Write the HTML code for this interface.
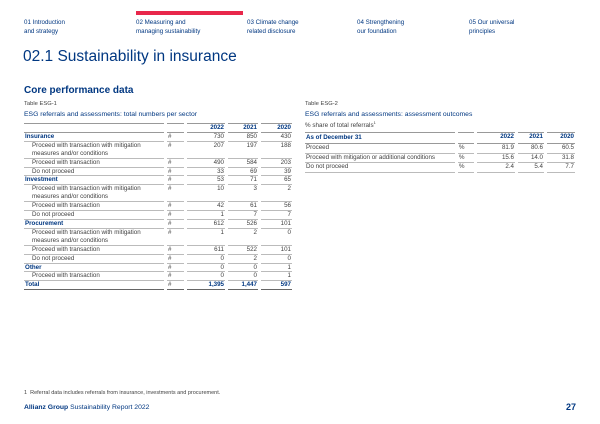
<!DOCTYPE html>
<html><head><meta charset="utf-8"><style>
body{margin:0;width:600px;height:424px;background:#fff;font-family:"Liberation Sans",sans-serif;color:#414141;position:relative;overflow:hidden}
.a{position:absolute;white-space:nowrap}
.nav{font-size:6.2px;line-height:9px;color:#003781}
.blue{color:#003781}
table{border-collapse:separate;border-spacing:3px 0;position:absolute;font-size:6.2px}
td,th{padding:0 1px;line-height:7.9px;border-bottom:0.7px solid #bbb;vertical-align:top;text-align:right;font-weight:normal}
td.l,th.l{text-align:left}
.sub td.l:first-child{padding-left:8px}
.b td.l:first-child{font-weight:bold;color:#003781}
th{font-weight:bold;color:#003781;border-bottom:1px solid #999}
.hd th{border-top:1px solid #999}
.tot td{border-bottom:1.3px solid #666;font-weight:bold;color:#003781}
.tot td:nth-child(2){font-weight:normal;color:#414141}
#t2 td{line-height:8.6px}
</style></head><body>
<div class="a" style="left:136px;top:11px;width:107px;height:4px;background:#e8274b"></div>
<div class="a nav" style="left:24px;top:18px">01 Introduction<br>and strategy</div>
<div class="a nav" style="left:136px;top:18px">02 Measuring and<br>managing sustainability</div>
<div class="a nav" style="left:247px;top:18px">03 Climate change<br>related disclosure</div>
<div class="a nav" style="left:357px;top:18px">04 Strengthening<br>our foundation</div>
<div class="a nav" style="left:469px;top:18px">05 Our universal<br>principles</div>
<div class="a blue" style="left:23px;top:48px;font-size:15.5px">02.1 Sustainability in insurance</div>
<div class="a blue" style="left:24px;top:85px;font-size:10px;font-weight:bold">Core performance data</div>
<div class="a" style="left:24px;top:101px;font-size:5.8px">Table ESG-1</div>
<div class="a blue" style="left:24px;top:111px;font-size:6.8px">ESG referrals and assessments: total numbers per sector</div>
<div class="a" style="left:305px;top:101px;font-size:5.8px">Table ESG-2</div>
<div class="a blue" style="left:305px;top:111px;font-size:6.8px">ESG referrals and assessments: assessment outcomes</div>
<div class="a" style="left:305px;top:120px;font-size:6.3px">% share of total referrals<sup style="font-size:4px">1</sup></div>

<table style="left:21px;top:123px">
<colgroup><col style="width:140px"><col style="width:17px"><col style="width:38px"><col style="width:30px"><col style="width:31px"></colgroup>
<tr class="hd"><th class="l" style="line-height:9px"></th><th></th><th>2022</th><th>2021</th><th>2020</th></tr>
<tr class="b"><td class="l">Insurance</td><td class="l">#</td><td>730</td><td>850</td><td>430</td></tr>
<tr class="sub"><td class="l">Proceed with transaction with mitigation<br>measures and/or conditions</td><td class="l">#</td><td>207</td><td>197</td><td>188</td></tr>
<tr class="sub"><td class="l">Proceed with transaction</td><td class="l">#</td><td>490</td><td>584</td><td>203</td></tr>
<tr class="sub"><td class="l">Do not proceed</td><td class="l">#</td><td>33</td><td>69</td><td>39</td></tr>
<tr class="b"><td class="l">Investment</td><td class="l">#</td><td>53</td><td>71</td><td>65</td></tr>
<tr class="sub"><td class="l">Proceed with transaction with mitigation<br>measures and/or conditions</td><td class="l">#</td><td>10</td><td>3</td><td>2</td></tr>
<tr class="sub"><td class="l">Proceed with transaction</td><td class="l">#</td><td>42</td><td>61</td><td>56</td></tr>
<tr class="sub"><td class="l">Do not proceed</td><td class="l">#</td><td>1</td><td>7</td><td>7</td></tr>
<tr class="b"><td class="l">Procurement</td><td class="l">#</td><td>612</td><td>526</td><td>101</td></tr>
<tr class="sub"><td class="l">Proceed with transaction with mitigation<br>measures and/or conditions</td><td class="l">#</td><td>1</td><td>2</td><td>0</td></tr>
<tr class="sub"><td class="l">Proceed with transaction</td><td class="l">#</td><td>611</td><td>522</td><td>101</td></tr>
<tr class="sub"><td class="l">Do not proceed</td><td class="l">#</td><td>0</td><td>2</td><td>0</td></tr>
<tr class="b"><td class="l">Other</td><td class="l">#</td><td>0</td><td>0</td><td>1</td></tr>
<tr class="sub"><td class="l">Proceed with transaction</td><td class="l">#</td><td>0</td><td>0</td><td>1</td></tr>
<tr class="tot b"><td class="l">Total</td><td class="l">#</td><td>1,395</td><td>1,447</td><td>597</td></tr>
</table>

<table id="t2" style="left:302px;top:132px">
<colgroup><col style="width:150px"><col style="width:16px"><col style="width:38px"><col style="width:26px"><col style="width:28px"></colgroup>
<tr class="hd"><th class="l" style="line-height:10px">As of December 31</th><th></th><th>2022</th><th>2021</th><th>2020</th></tr>
<tr><td class="l">Proceed</td><td class="l">%</td><td>81.9</td><td>80.6</td><td>60.5</td></tr>
<tr><td class="l">Proceed with mitigation or additional conditions</td><td class="l">%</td><td>15.6</td><td>14.0</td><td>31.8</td></tr>
<tr><td class="l">Do not proceed</td><td class="l">%</td><td>2.4</td><td>5.4</td><td>7.7</td></tr>
</table>

<div class="a" style="left:24px;top:390px;font-size:5.5px">1 &nbsp;Referral data includes referrals from insurance, investments and procurement.</div>
<div class="a blue" style="left:24px;top:404px;font-size:6.8px"><b>Allianz Group</b> Sustainability Report 2022</div>
<div class="a blue" style="left:566px;top:402px;font-size:9px;font-weight:bold">27</div>
</body></html>
